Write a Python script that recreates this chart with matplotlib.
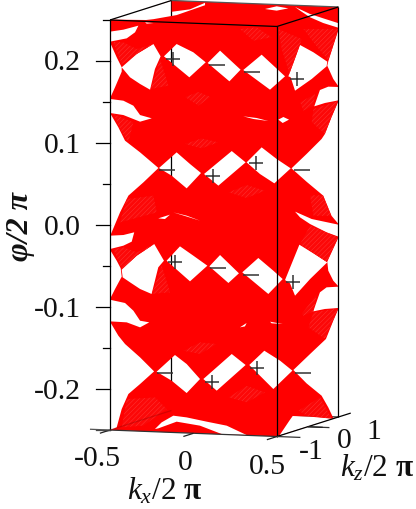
import numpy as np
import matplotlib
matplotlib.use('Agg')
import matplotlib.pyplot as plt
from matplotlib.path import Path
from matplotlib.patches import PathPatch, Polygon

plt.rcParams['font.family'] = ['Liberation Serif', 'DejaVu Serif']
plt.rcParams['mathtext.fontset'] = 'custom'
plt.rcParams['mathtext.rm'] = 'Liberation Serif'
plt.rcParams['mathtext.it'] = 'Liberation Serif:italic'
plt.rcParams['mathtext.bf'] = 'Liberation Serif:bold'
plt.rcParams['hatch.linewidth'] = 0.3

phi_major = [-0.2, -0.1, 0.0, 0.1, 0.2]
phi_labels = ['-0.2', '-0.1', '0.0', '0.1', '0.2']
phi_minor = [-0.25, -0.15, -0.05, 0.05, 0.15, 0.25]
kx_ticks = [-0.5, 0.0, 0.5]
kx_labels = ['-0.5', '0', '0.5']
kz_ticks = [-1, 0, 1]
kz_labels = ['-1', '0', '1']

# node signs, (projected kx, phi)
plus_u = [-0.125, 0.115, 0.374, 0.618, -0.109, 0.109, 0.378, 0.598]
plus_phi = [0.202, 0.060, 0.076, 0.178, -0.0455, -0.191, -0.174, -0.069]
minus_u = [0.139, 0.352, -0.161, 0.648, 0.149, 0.342, -0.171, 0.658]
minus_phi = [0.1955, 0.187, 0.067, 0.067, -0.052, -0.0606, -0.1805, -0.1805]

gap_top_left = [(-.495, .2505), (-.284, .250), (-.240, .251), (-.101, .256), (.069, .268), (.069, .271),
                (-.021, .263), (-.131, .260), (-.131, .2735)]
gap_top_lens = [(.428, .2634), (.498, .2667), (.568, .2642), (.498, .2614)]
gap_top_right = [(.608, .2659), (.698, .2573), (.777, .252), (.865, .2463), (.865, .2407), (.777, .2463),
                 (.698, .2533), (.638, .2614)]
gap_small_top = [(-.29, .2472), (-.24, .2463), (-.28, .2455)]
gap_notch_a = [(-.5, .2358), (-.42, .2382), (-.33, .2431), (-.35, .2350), (-.40, .2276), (-.5, .2236)]
gap_left_1 = [(-.5, .2228), (-.46, .2045), (-.43, .1923), (-.43, .1870), (-.47, .1679), (-.5, .1545)]
gap_notch_b = [(-.5, .1537), (-.42, .1516), (-.36, .1455), (-.32, .1341), (-.25, .1301), (-.32, .1260),
               (-.42, .1341), (-.5, .1366)]
gap_left_2 = [(-.5, .1366), (-.45, .1191), (-.41, .1028), (-.32, .0886), (-.21, .0695), (-.30, .0520),
              (-.39, .0358), (-.44, .0154), (-.5, -.0138)]
gap_notch_c = [(-.5, -.0130), (-.42, -.0122), (-.355, -.0089), (-.37, -.0203), (-.42, -.0252), (-.5, -.0293)]
gap_left_3 = [(-.5, -.0301), (-.46, -.0435), (-.436, -.0528), (-.43, -.0630), (-.47, -.0781), (-.5, -.0902)]
gap_notch_d = [(-.5, -.0911), (-.41, -.0951), (-.36, -.1045), (-.32, -.1167), (-.265, -.1187), (-.32, -.1248),
               (-.40, -.1187), (-.5, -.1175)]
gap_left_4 = [(-.5, -.1179), (-.45, -.1350), (-.41, -.1451), (-.32, -.1614), (-.236, -.1785), (-.32, -.1939),
              (-.39, -.2061), (-.43, -.2244), (-.46, -.2468), (-.5, -.2500)]

row_1 = [
    [(-.430, .1923), (-.340, .2085), (-.240, .2207), (-.197, .2057), (-.231, .1902), (-.260, .1650),
     (-.320, .1720), (-.380, .1801)],
    [(-.177, .2057), (-.101, .2207), (-.001, .2106), (.073, .1984), (-.025, .1801)],
    [(.085, .1976), (.159, .2126), (.282, .1894), (.215, .1752)],
    [(.298, .1890), (.408, .2077), (.548, .1813), (.458, .1650)],
    [(.568, .1813), (.638, .2195), (.718, .2106), (.801, .1992), (.797, .1935), (.708, .1781), (.608, .1638),
     (.582, .1801)],
]
row_2 = [
    [(-.2066, .0695), (-.101, .0886), (-.021, .0744), (.045, .0634), (-.041, .0447), (-.131, .0602)],
    [(.063, .0622), (.229, .0902), (.312, .0764), (.149, .0480)],
    [(.318, .0764), (.408, .0947), (.498, .0805), (.582, .0691), (.484, .0508), (.398, .0622)],
]
row_3 = [
    [(-.43, -.0545), (-.34, -.0374), (-.235, -.0232), (-.177, -.0435), (-.211, -.0516), (-.251, -.0841),
     (-.32, -.0780), (-.38, -.0699), (-.424, -.0638)],
    [(-.161, -.0435), (-.081, -.0260), (-.001, -.0374), (.083, -.0496), (-.021, -.0687)],
    [(.095, -.0504), (.159, -.0366), (.272, -.0589), (.209, -.0707)],
    [(.292, -.0577), (.388, -.0402), (.478, -.0557), (.534, -.0659), (.448, -.0841)],
    [(.548, -.0671), (.634, -.0240), (.718, -.0346), (.801, -.0455), (.698, -.0659), (.608, -.0862),
     (.578, -.0711)],
]
row_4 = [
    [(-.221, -.1789), (-.111, -.1585), (-.041, -.1695), (.039, -.1878), (-.041, -.2049), (-.131, -.1898)],
    [(.059, -.1878), (.229, -.1573), (.312, -.1707), (.139, -.2020)],
    [(.334, -.1707), (.424, -.1533), (.518, -.1654), (.592, -.1776), (.478, -.2000), (.418, -.1878)],
]

gap_right_1 = [(.868, .2382), (.808, .2004), (.801, .1943), (.837, .1781), (.868, .1691)]
gap_right_notch_1 = [(.868, .1683), (.807, .1687), (.757, .1646), (.723, .1447), (.787, .1488), (.868, .1520)]
gap_right_2 = [(.868, .1512), (.826, .1313), (.787, .1110), (.767, .1049), (.677, .0866), (.587, .0691),
               (.677, .0528), (.777, .0358), (.826, .0114), (.868, .0012)]
gap_right_band = [(.608, .0163), (.708, .0073), (.868, .0004), (.868, -.0142), (.797, -.0089), (.698, .0012),
                  (.638, .0093)]
gap_right_3 = [(.868, -.0150), (.801, -.0447), (.807, -.0557), (.837, -.0679), (.868, -.0748)]
gap_right_notch_2 = [(.868, -.0752), (.797, -.0760), (.757, -.0821), (.717, -.1053), (.787, -.1024), (.868, -.1012)]
gap_right_4 = [(.868, -.1020), (.837, -.1167), (.793, -.1390), (.698, -.1573), (.598, -.1768), (.677, -.1931),
               (.767, -.2081), (.807, -.2224), (.837, -.2354), (.868, -.2337)]
gap_bottom_right = [(.515, -.2565), (.574, -.2386), (.594, -.2329), (.698, -.2337), (.833, -.2362)]
gap_bottom = [(-.231, -.2488), (-.191, -.2407), (-.121, -.2325), (-.041, -.2346), (.079, -.2398), (.199, -.2447),
              (.318, -.2561), (.169, -.2549), (.039, -.2447), (-.101, -.2398), (-.211, -.2480)]
slivers = [
    [(.508, .1285), (.538, .1317), (.572, .1285), (.534, .1244)],
    [(.298, .1325), (.378, .1305), (.448, .1268), (.358, .1293)],
    [(-.211, .0081), (-.141, .0126), (-.171, .0073)],
    [(-.121, .0154), (.039, .0053), (-.041, .0114)],
    [(.278, -.1248), (.318, -.1195), (.308, -.1236)],
    [(.458, -.1179), (.534, -.1207), (.468, -.1199)],
]

# lighter moire areas on the surface
moire_patches = [
    [(-.051, .1561), (.029, .1622), (.103, .1561), (.029, .1455)],
    [(-.051, .0988), (.049, .1057), (.149, .1008), (.049, .0935)],
    [(.209, .0398), (.318, .0488), (.428, .0419), (.318, .0329)],
    [(-.48, .2228), (-.43, .1963), (-.24, .2207), (-.34, .2146), (-.42, .2228)],
    [(-.257, .1658), (-.2, .2024), (-.15, .1699)],
    [(.278, .2390), (.378, .2410), (.468, .2289), (.358, .2248)],
    [(.508, .2390), (.648, .2268), (.578, .1821), (.528, .2146)],
    [(.658, .2390), (.868, .2390), (.808, .2004), (.718, .2228)],
    [(.209, -.2102), (.318, -.1961), (.428, -.2041), (.318, -.2163)],
    [(-.061, -.1533), (.039, -.1431), (.139, -.1451), (.039, -.1573)],
    [(-.48, -.0293), (-.43, -.0528), (-.235, -.0232), (-.34, -.0333), (-.42, -.0272)],
    [(-.25, -.0841), (-.19, -.0496), (-.14, -.0821)],
    [(.698, -.0008), (.868, -.0150), (.797, -.0455), (.638, -.0232)],
    [(.638, .1496), (.728, .1598), (.718, .1455), (.658, .1394)],
    [(.718, .1415), (.868, .1516), (.787, .1110), (.708, .1252)],
    [(.648, -.1085), (.738, -.0841), (.718, -.1053), (.658, -.1106)],
    [(.718, -.1065), (.868, -.1016), (.787, -.1390), (.688, -.1248)],
    [(-.40, -.2122), (-.23, -.2102), (-.16, -.2244), (-.30, -.2447), (-.43, -.2468)],
    [(.628, -.2264), (.758, -.2102), (.828, -.2362), (.678, -.2325)],
    [(-.48, .1354), (-.36, .1252), (-.39, .1008), (-.44, .1171)],
    [(-.40, .0317), (-.24, .0358), (-.22, .0154), (-.44, .0032)],
    [(.698, .0358), (.777, .0358), (.826, .0114), (.718, .0114)],
]


def project(kx, kz, phi):
    # oblique view of the box, kz runs back and to the right
    u = kx + (kz + 1) / 2 * 0.368
    v = phi - (kx + 0.5) * 0.0079 + (kz + 1) / 2 * 0.0238
    return u, v


def ring(points, ccw):
    pts = np.array(points, dtype=float)
    x, y = pts[:, 0], pts[:, 1]
    area = np.sum(x * np.roll(y, -1) - np.roll(x, -1) * y)
    if (area > 0) != ccw:
        pts = pts[::-1]
    return Path(np.vstack([pts, pts[:1]]), closed=True)


def edge(a, b, **kw):
    ua, va = project(*a)
    ub, vb = project(*b)
    ax.plot([ua, ub], [va, vb], color=kw.pop('color', 'black'), lw=kw.pop('lw', 0.9),
            solid_capstyle='butt', **kw)


fig = plt.figure(figsize=(4.16, 5.10), dpi=100)
ax = fig.add_axes([0, 0, 1, 1])
ax.set_xlim(-1.1587, 1.3323)
ax.set_ylim(-0.3463, 0.2756)
ax.axis('off')

# back of the box, hidden by the surface
edge((-0.5, 1, -0.25), (-0.5, 1, 0.25), zorder=1)
edge((-0.5, 1, -0.25), (0.5, 1, -0.25), zorder=1, color='#333333')
edge((0.5, 0, -0.25), (0.63, 0, -0.25), zorder=1, color='#333333')

hull = [project(-0.5, -1, 0.25), project(-0.5, 1, 0.25), project(0.5, 1, 0.25),
        project(0.5, 1, -0.25), project(0.5, -1, -0.25), project(-0.5, -1, -0.25)]
gaps = [gap_top_left, gap_top_lens, gap_top_right, gap_small_top, gap_notch_a, gap_left_1, gap_notch_b,
        gap_left_2, gap_notch_c, gap_left_3, gap_notch_d, gap_left_4, gap_right_1, gap_right_notch_1,
        gap_right_2, gap_right_band, gap_right_3, gap_right_notch_2, gap_right_4, gap_bottom_right, gap_bottom]
gaps = gaps + row_1 + row_2 + row_3 + row_4 + slivers

surface = Path.make_compound_path(ring(hull, True), *[ring(g, False) for g in gaps])
red = PathPatch(surface, facecolor='#ff0000', edgecolor='none', lw=0, zorder=2)
ax.add_patch(red)

for m in moire_patches:
    p = Polygon(m, closed=True, facecolor='#fc0808', edgecolor='#ff3c3c', hatch='///////', lw=0, zorder=2.1)
    ax.add_patch(p)
    p.set_clip_path(red)

# front of the box
edge((-0.5, -1, -0.25), (-0.5, -1, 0.25), zorder=3)
edge((0.5, -1, -0.25), (0.5, -1, 0.25), zorder=3)
edge((0.5, 1, -0.25), (0.5, 1, 0.25), zorder=3)
edge((-0.5, -1, 0.25), (0.5, -1, 0.25), zorder=3)
edge((-0.5, 1, 0.25), (0.5, 1, 0.25), zorder=3, color='#555555')
edge((-0.5, -1, 0.25), (-0.5, 1, 0.25), zorder=3)
edge((0.5, -1, 0.25), (0.5, 1, 0.25), zorder=3)
edge((-0.5, -1, -0.25), (0.5, -1, -0.25), zorder=3, color='#333333')
edge((0.5, -1, -0.25), (0.5, 1.4, -0.25), zorder=3)
edge((-0.5, -1, -0.25), (-0.5, 1, -0.25), zorder=3, color='#8a0000', alpha=0.35)

# phi ticks
for t, lab in zip(phi_major, phi_labels):
    ax.plot([-0.5 - 14 / 167, -0.5], [t, t], color='black', lw=0.9, zorder=3)
    ax.annotate(lab, (-0.5, t), xytext=(-29, -1.5), textcoords='offset pixels', ha='right', va='center',
                fontsize=21.3, color='#111111')
for t in phi_minor:
    ax.plot([-0.5 - 7 / 167, -0.5], [t, t], color='black', lw=0.9, zorder=3)
ax.plot([-0.5 - 14 / 167, -0.5], [-0.25, -0.25], color='#444444', lw=0.9, zorder=3)

# kx ticks, pointing towards the viewer
kx_offsets = [(-12.5, -28), (-8.5, -28.5), (-9.5, -29.5)]
for t, lab, off in zip(kx_ticks, kx_labels, kx_offsets):
    edge((t, -1.33, -0.25), (t, -1, -0.25), zorder=3, color='#222222')
    ax.annotate(lab, project(t, -1, -0.25), xytext=off, textcoords='offset pixels', ha='center', va='center',
                fontsize=21.3, color='#111111')
edge((0.5, -1, -0.25), (0.64, -1, -0.25), zorder=3, color='#333333')
edge((-0.62, -1, -0.25), (-0.5, -1, -0.25), zorder=3, color='#555555')

# kz ticks
kz_offsets = [(34, -14), (37, -13), (35.5, -14)]
for t, lab, off in zip(kz_ticks, kz_labels, kz_offsets):
    ax.annotate(lab, project(0.5, t, -0.25), xytext=off, textcoords='offset pixels', ha='center', va='center',
                fontsize=21.3, color='#111111')
edge((0.5, 0, -0.25), (0.59, 0, -0.25), zorder=3, color='#222222')

ax.plot(plus_u, plus_phi, linestyle='none', marker='+', ms=10, mew=1.1, color='#333333', zorder=4)
ax.plot(minus_u, minus_phi, linestyle='none', marker='_', ms=11, mew=1.1, color='#333333', zorder=4)

ax.text(-0.171, -0.3235, r'$k_x$/2 $\mathbf{\pi}$', ha='center', va='center', fontsize=22.5, color='#111111')
ax.text(1.10, -0.295, r'$k_z$/2 $\mathbf{\pi}$', ha='center', va='center', fontsize=22.5, color='#111111')
ax.text(-1.033, 0.0, 'φ/2 π', rotation=90, ha='center', va='center', fontsize=23, fontweight='bold',
        fontstyle='italic', color='#111111')

fig.savefig('out.png', dpi=100)
